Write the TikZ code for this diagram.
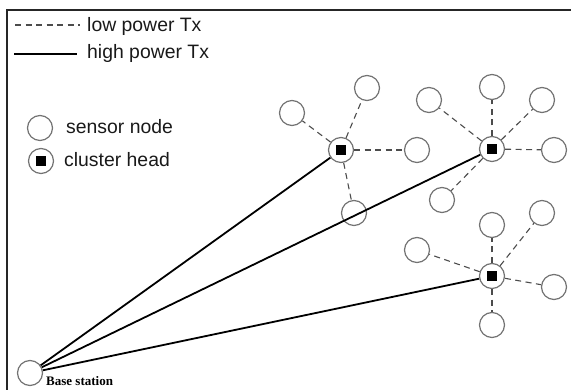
\documentclass[tikz,border=0pt]{standalone}
\usepackage{fontspec}
\setmainfont{Liberation Sans}
\newfontfamily\labelserif{Liberation Serif}
\begin{document}
\begin{tikzpicture}[x=1pt,y=-1pt,
  sensor/.style={circle,draw=black!55,line width=1.2pt,minimum size=25pt,inner sep=0pt,fill=white},
  head/.style={sensor,path picture={\fill[black]
      ([xshift=-5pt,yshift=-5pt]path picture bounding box.center) rectangle ++(10pt,10pt);}},
  low/.style={draw=black!70,line width=1.1pt,dash pattern=on 6pt off 4.5pt},
  high/.style={draw=black,line width=1.8pt},
  lbl/.style={anchor=base west,inner sep=0pt,font=\fontsize{19.4}{22}\selectfont,text=black!90}]

\useasboundingbox (0,0) rectangle (571,390);

% frame (top and left edges)
\draw[line width=1.1pt,black!85] (7,390) -- (7,10) -- (571,10);

% legend
\coordinate (la) at (15,25);  \coordinate (lb) at (80,25);
\coordinate (ha) at (14,54);  \coordinate (hb) at (77,54);
\draw[low] (la) -- (lb);
\draw[high] (ha) -- (hb);
\node[lbl] (tlow) at (87,32) {low power Tx};
\node[lbl] (thigh) at (87,59) {high power Tx};
\node[sensor] (ls) at (40,128) {};
\node[head] (lh) at (41,161) {};
\node[lbl] (tsensor) at (66,134) {sensor node};
\node[lbl] (thead) at (64,167) {cluster head};

% base station
\node[sensor] (bs) at (30,373) {};
\node[anchor=base west,inner sep=0pt,font=\labelserif\bfseries\fontsize{13}{15}\selectfont] (tbs) at (46,385) {Base station};

% cluster 1
\node[head] (h1) at (341,150) {};
\node[sensor] (a1) at (292,113) {};
\node[sensor] (a2) at (367,88) {};
\node[sensor] (a3) at (417,150) {};
\node[sensor] (a4) at (354,213) {};

% cluster 2
\node[head] (h2) at (492,149) {};
\node[sensor] (b1) at (429,100) {};
\node[sensor] (b2) at (492,87) {};
\node[sensor] (b3) at (542,100) {};
\node[sensor] (b4) at (554,150) {};
\node[sensor] (b5) at (442,200) {};

% cluster 3
\node[head] (h3) at (492,276) {};
\node[sensor] (c1) at (492,225) {};
\node[sensor] (c2) at (542,213) {};
\node[sensor] (c3) at (417,250) {};
\node[sensor] (c4) at (554,287) {};
\node[sensor] (c5) at (492,325) {};

% low power links inside each cluster
\foreach \m in {a1,a2,a3,a4} \draw[low] (h1) -- (\m);
\foreach \m in {b1,b2,b3,b4,b5} \draw[low] (h2) -- (\m);
\foreach \m in {c1,c2,c3,c4,c5} \draw[low] (h3) -- (\m);

% high power links to the base station
\foreach \h in {h1,h2,h3} \draw[high] (bs) -- (\h);
\end{tikzpicture}
\end{document}
